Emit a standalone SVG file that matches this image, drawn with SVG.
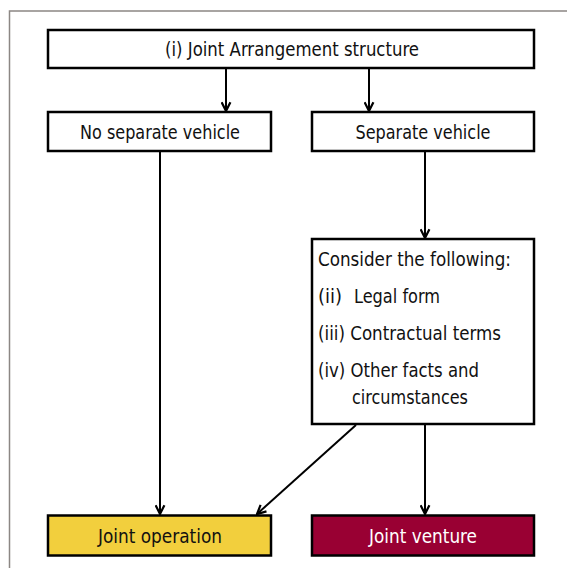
<svg xmlns="http://www.w3.org/2000/svg" width="567" height="568" viewBox="0 0 567 568">
<style>
.box{fill:#ffffff;stroke:#000000;stroke-width:2.5}
.t{font-family:"DejaVu Sans Condensed","DejaVu Sans",sans-serif;font-size:20px;fill:#111111}
.c{stroke:#000000;stroke-width:2;fill:none}
</style>
<defs>
<marker id="arr" viewBox="0 0 10 10" refX="9" refY="5" markerWidth="11" markerHeight="11" markerUnits="userSpaceOnUse" orient="auto">
<path d="M1,1 L9,5 L1,9" fill="none" stroke="#000000" stroke-width="2"/>
</marker>
</defs>
<rect x="0" y="0" width="567" height="568" fill="#ffffff"/>
<path d="M9.5,568 L9.5,11 L567,11" fill="none" stroke="#8c8784" stroke-width="1.5"/>
<g id="connectors">
<line class="c" x1="226" y1="69" x2="226" y2="111" marker-end="url(#arr)"/>
<line class="c" x1="369" y1="69" x2="369" y2="111" marker-end="url(#arr)"/>
<line class="c" x1="160" y1="152" x2="160" y2="514" marker-end="url(#arr)"/>
<line class="c" x1="425" y1="152" x2="425" y2="238" marker-end="url(#arr)"/>
<line class="c" x1="425" y1="425" x2="425" y2="514" marker-end="url(#arr)"/>
<line class="c" x1="356" y1="425" x2="257" y2="514" stroke-width="1.5" marker-end="url(#arr)"/>
</g>
<g id="top">
<rect class="box" x="48" y="30" width="486" height="38"/>
<text class="t" x="292" y="56" text-anchor="middle" textLength="254" lengthAdjust="spacingAndGlyphs">(i) Joint Arrangement structure</text>
</g>
<g id="noSep">
<rect class="box" x="48" y="112" width="223" height="39"/>
<text class="t" x="160" y="139" text-anchor="middle" textLength="160" lengthAdjust="spacingAndGlyphs">No separate vehicle</text>
</g>
<g id="sep">
<rect class="box" x="312" y="112" width="222" height="39"/>
<text class="t" x="423" y="139" text-anchor="middle" textLength="135" lengthAdjust="spacingAndGlyphs">Separate vehicle</text>
</g>
<g id="consider">
<rect class="box" x="312" y="239" width="222" height="185"/>
<text class="t" x="318" y="266" textLength="193" lengthAdjust="spacingAndGlyphs">Consider the following:</text>
<text class="t" x="318" y="303">(ii)</text>
<text class="t" x="354" y="303" textLength="86" lengthAdjust="spacingAndGlyphs">Legal form</text>
<text class="t" x="318" y="340" textLength="183" lengthAdjust="spacingAndGlyphs">(iii) Contractual terms</text>
<text class="t" x="318" y="377" textLength="161" lengthAdjust="spacingAndGlyphs">(iv) Other facts and</text>
<text class="t" x="352" y="404" textLength="116" lengthAdjust="spacingAndGlyphs">circumstances</text>
</g>
<g id="jointOperation">
<rect x="48" y="515.5" width="223" height="40" fill="#f2cf3d" stroke="#000000" stroke-width="2.5"/>
<text class="t" x="160" y="543" text-anchor="middle" textLength="124" lengthAdjust="spacingAndGlyphs">Joint operation</text>
</g>
<g id="jointVenture">
<rect x="312" y="515.5" width="222" height="40" fill="#990033" stroke="#000000" stroke-width="2.5"/>
<text class="t" x="423" y="543" text-anchor="middle" textLength="108" lengthAdjust="spacingAndGlyphs" style="fill:#ffffff">Joint venture</text>
</g>
</svg>
